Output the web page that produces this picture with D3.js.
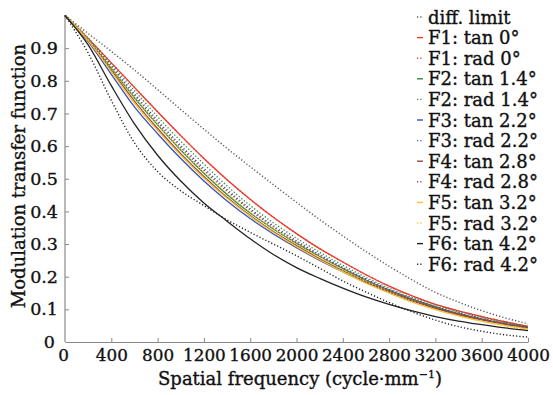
<!DOCTYPE html>
<html>
<head>
<meta charset="utf-8">
<script src="https://cdn.jsdelivr.net/npm/d3@7"></script>
<style>
  html, body { margin: 0; padding: 0; background: #fff; }
  svg text { font-family: "DejaVu Serif", serif; fill: #111; stroke: #111; stroke-width: 0.35px; }
</style>
</head>
<body>
<div id="chart"></div>
<script>
// spatial frequency samples (cycle/mm)
const freq = [0, 200, 400, 600, 800, 1000, 1200, 1400, 1600, 1800, 2000,
  2200, 2400, 2600, 2800, 3000, 3200, 3400, 3600, 3800, 4000];

const diffLimit = [1, 0.945, 0.89, 0.833, 0.773, 0.712, 0.652, 0.593, 0.537, 0.482, 0.428,
  0.375, 0.325, 0.277, 0.232, 0.19, 0.152, 0.122, 0.096, 0.074, 0.056];
const f1Tan = [1, 0.93, 0.855, 0.78, 0.705, 0.632, 0.562, 0.497, 0.437, 0.382, 0.332,
  0.286, 0.245, 0.206, 0.171, 0.141, 0.115, 0.095, 0.078, 0.062, 0.048];
const f1Rad = [1, 0.93, 0.855, 0.78, 0.705, 0.632, 0.562, 0.497, 0.437, 0.382, 0.332,
  0.286, 0.245, 0.206, 0.171, 0.141, 0.115, 0.095, 0.078, 0.062, 0.048];
const f2Tan = [1, 0.926, 0.838, 0.748, 0.665, 0.588, 0.517, 0.452, 0.395, 0.346, 0.302,
  0.262, 0.225, 0.19, 0.159, 0.131, 0.107, 0.087, 0.07, 0.056, 0.045];
const f2Rad = [1, 0.93, 0.85, 0.77, 0.69, 0.615, 0.545, 0.478, 0.418, 0.365, 0.318,
  0.275, 0.235, 0.198, 0.165, 0.136, 0.112, 0.092, 0.075, 0.06, 0.047];
const f3Tan = [1, 0.92, 0.82, 0.72, 0.638, 0.562, 0.493, 0.432, 0.378, 0.331, 0.289,
  0.25, 0.215, 0.182, 0.152, 0.125, 0.102, 0.083, 0.068, 0.054, 0.042];
const f3Rad = [1, 0.928, 0.845, 0.76, 0.678, 0.602, 0.532, 0.467, 0.408, 0.356, 0.31,
  0.268, 0.229, 0.193, 0.161, 0.133, 0.109, 0.089, 0.072, 0.058, 0.046];
const f4Tan = [1, 0.924, 0.832, 0.738, 0.654, 0.577, 0.507, 0.443, 0.387, 0.338, 0.295,
  0.255, 0.219, 0.185, 0.155, 0.128, 0.104, 0.085, 0.069, 0.055, 0.044];
const f4Rad = [1, 0.927, 0.842, 0.755, 0.672, 0.596, 0.526, 0.462, 0.404, 0.352, 0.306,
  0.265, 0.226, 0.19, 0.158, 0.13, 0.106, 0.086, 0.069, 0.055, 0.044];
const f5Tan = [1, 0.923, 0.828, 0.732, 0.648, 0.572, 0.502, 0.44, 0.385, 0.336, 0.292,
  0.252, 0.215, 0.18, 0.15, 0.122, 0.099, 0.08, 0.064, 0.051, 0.04];
const f5Rad = [1, 0.926, 0.838, 0.75, 0.666, 0.59, 0.52, 0.456, 0.398, 0.347, 0.301,
  0.26, 0.221, 0.185, 0.153, 0.125, 0.1, 0.08, 0.063, 0.049, 0.037];
const f6Tan = [1, 0.91, 0.785, 0.668, 0.572, 0.493, 0.426, 0.37, 0.316, 0.268, 0.228,
  0.195, 0.165, 0.138, 0.115, 0.095, 0.078, 0.064, 0.053, 0.043, 0.035];
const f6Rad = [1, 0.885, 0.74, 0.61, 0.522, 0.463, 0.418, 0.374, 0.336, 0.3, 0.264,
  0.226, 0.187, 0.153, 0.121, 0.092, 0.067, 0.047, 0.033, 0.022, 0.015];

const xTicks = [0, 400, 800, 1200, 1600, 2000, 2400, 2800, 3200, 3600, 4000];
const yTicks = [0, 0.1, 0.2, 0.3, 0.4, 0.5, 0.6, 0.7, 0.8, 0.9];

const RED = '#ee3a2e', GREEN = '#2f8a3c', BLUE = '#3b4fc2',
      BROWN = '#9c4638', YELLOW = '#f2c232', BLACK = '#222';
const DOT = '1.2,2.1';

const series = [
  { name: 'diff. limit', values: diffLimit, color: '#555', dash: DOT },
  { name: 'F1: tan 0°', values: f1Tan, color: RED, dash: null },
  { name: 'F1: rad 0°', values: f1Rad, color: RED, dash: DOT },
  { name: 'F2: tan 1.4°', values: f2Tan, color: GREEN, dash: null },
  { name: 'F2: rad 1.4°', values: f2Rad, color: GREEN, dash: DOT },
  { name: 'F3: tan 2.2°', values: f3Tan, color: BLUE, dash: null },
  { name: 'F3: rad 2.2°', values: f3Rad, color: BLUE, dash: DOT },
  { name: 'F4: tan 2.8°', values: f4Tan, color: BROWN, dash: null },
  { name: 'F4: rad 2.8°', values: f4Rad, color: BROWN, dash: DOT },
  { name: 'F5: tan 3.2°', values: f5Tan, color: YELLOW, dash: null },
  { name: 'F5: rad 3.2°', values: f5Rad, color: YELLOW, dash: DOT },
  { name: 'F6: tan 4.2°', values: f6Tan, color: BLACK, dash: null },
  { name: 'F6: rad 4.2°', values: f6Rad, color: BLACK, dash: DOT },
];

const width = 553, height = 395;

const svg = d3.select('#chart').append('svg')
  .attr('width', width)
  .attr('height', height);

const x = d3.scaleLinear().domain([0, 4000]).range([65, 528]);
const y = d3.scaleLinear().domain([0, 1]).range([342, 15.5]);

// Axes (ticks point inward)
const xAxis = svg.append('g')
  .attr('transform', `translate(0,${y(0)})`)
  .call(d3.axisBottom(x).tickValues(xTicks).tickSizeInner(-4).tickSizeOuter(0).tickPadding(7)
    .tickFormat(d3.format('d')));

const yAxis = svg.append('g')
  .attr('transform', `translate(${x(0)},0)`)
  .call(d3.axisLeft(y).tickValues(yTicks).tickSizeInner(-4).tickSizeOuter(0).tickPadding(7)
    .tickFormat(d => d === 0 ? '0' : d.toFixed(1)));

svg.selectAll('.domain').attr('stroke', '#8a8a8a').attr('stroke-width', 1.2);
svg.selectAll('.tick line').attr('stroke', '#8a8a8a');
svg.selectAll('.tick text').attr('font-size', 17.5).attr('font-family', '"DejaVu Serif", serif').attr('fill', '#111');
xAxis.selectAll('.tick text').attr('font-size', 16.8);
xAxis.selectAll('.tick').filter(d => d === 0).select('line').remove();
yAxis.selectAll('.tick').filter(d => d === 0).select('line').remove();
yAxis.selectAll('.tick').filter(d => d === 0).select('text').attr('x', -10);
xAxis.selectAll('.tick').filter(d => d === 0).select('text').attr('x', -2);
// extend y axis line to 1.0
yAxis.select('.domain').attr('d', `M0,${y(0)}V${y(1)}`);

// Curves
const line = d3.line()
  .x((d, i) => x(freq[i]))
  .y(d => y(d))
  .curve(d3.curveMonotoneX);

svg.append('g')
  .selectAll('path')
  .data(series)
  .join('path')
  .attr('d', d => line(d.values))
  .attr('fill', 'none')
  .attr('stroke', d => d.color)
  .attr('stroke-width', d => d.dash ? 1.4 : 1.3)
  .attr('stroke-dasharray', d => d.dash);

// Legend
const legend = svg.append('g').attr('transform', 'translate(417,17)');
const row = legend.selectAll('g')
  .data(series)
  .join('g')
  .attr('transform', (d, i) => `translate(0,${i * 20.6})`);

row.append('line')
  .attr('x1', 0).attr('x2', 6)
  .attr('y1', 0).attr('y2', 0)
  .attr('stroke', d => d.color)
  .attr('stroke-width', 1.4)
  .attr('stroke-dasharray', d => d.dash);

row.append('text')
  .attr('x', 11)
  .attr('y', 6.5)
  .attr('font-size', 18)
  .text(d => d.name);

// Axis titles
const xTitle = svg.append('text')
  .attr('x', 300)
  .attr('y', 385)
  .attr('text-anchor', 'middle')
  .attr('font-size', 18);
xTitle.append('tspan').text('Spatial frequency (cycle\u00b7mm');
xTitle.append('tspan').attr('font-size', 11).attr('dy', -7).text('\u22121');
xTitle.append('tspan').attr('dy', 7).text(')');

svg.append('text')
  .attr('transform', 'translate(25,176) rotate(-90)')
  .attr('text-anchor', 'middle')
  .attr('font-size', 18)
  .text('Modulation transfer function');
</script>
</body>
</html>
